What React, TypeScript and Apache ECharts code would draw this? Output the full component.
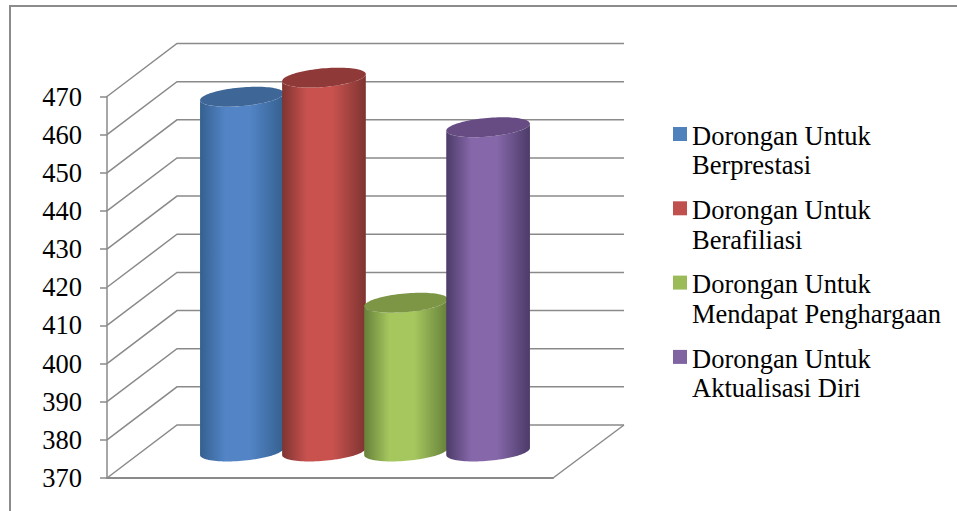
import React, { useEffect, useRef } from "react";
import * as echarts from "echarts";

const tickValues = [370, 380, 390, 400, 410, 420, 430, 440, 450, 460, 470];
const seriesNames = [
  "Dorongan Untuk\nBerprestasi",
  "Dorongan Untuk\nBerafiliasi",
  "Dorongan Untuk\nMendapat Penghargaan",
  "Dorongan Untuk\nAktualisasi Diri",
];
const seriesValues = [463, 468, 409, 455];
const categories = ["Motivasi"];
const baseColors = ["#4f81bd", "#c0504d", "#9bbb59", "#8064a2"];
const midColors = ["#5284c6", "#c9524f", "#a5c75e", "#8668aa"];
const edgeColors = ["#35608f", "#7e3431", "#66803a", "#4c3b68"];
const capColors = ["#3e6697", "#8f3a38", "#7d9645", "#664c83"];

const GRAY = "#8a8a8a";
const DEPTH_X = 70;
const DEPTH_Y = 53;
const RX = 42;
const RY = 9.3;
const TILT = (5 * Math.PI) / 180;
const PHI0 = Math.atan((RY * Math.tan(TILT)) / RX);

function ellipsePoint(cx: number, cy: number, phi: number) {
  const c = Math.cos(phi);
  const s = Math.sin(phi);
  return [
    cx + RX * c * Math.cos(TILT) + RY * s * Math.sin(TILT),
    cy - RX * c * Math.sin(TILT) + RY * s * Math.cos(TILT),
  ];
}

function arcPoints(cx: number, cy: number, from: number, to: number, steps: number) {
  const pts: number[][] = [];
  for (let k = 0; k <= steps; k++) {
    pts.push(ellipsePoint(cx, cy, from + ((to - from) * k) / steps));
  }
  return pts;
}

export default function App() {
  const ref = useRef<HTMLDivElement>(null);
  useEffect(() => {
    const chart = echarts.init(ref.current!, null, { renderer: "svg" });

    const cylinderSeries = seriesNames.map((name, i) => ({
      type: "custom",
      name,
      z: 3 + i,
      itemStyle: { color: baseColors[i] },
      data: [[0, seriesValues[i]]],
      renderItem: (params: any, api: any) => {
        const band = api.size([1, 0])[0];
        const top = api.coord([0, api.value(1)]);
        const base = api.coord([0, tickValues[0]]);
        const cx = top[0] + DEPTH_X / 2 + (i - 1.5) * band * 0.184;
        const cy = top[1] - DEPTH_Y / 2;
        const by = base[1] - DEPTH_Y / 2;
        const body = [
          ...arcPoints(cx, by, PHI0 + Math.PI, PHI0, 48),
          ...arcPoints(cx, cy, PHI0, PHI0 + Math.PI, 48),
        ];
        const cap = arcPoints(cx, cy, 0, 2 * Math.PI, 96);
        return {
          type: "group",
          children: [
            {
              type: "polygon",
              shape: { points: body },
              style: {
                fill: new echarts.graphic.LinearGradient(0, 0, 1, 0, [
                  { offset: 0, color: edgeColors[i] },
                  { offset: 0.3, color: midColors[i] },
                  { offset: 0.6, color: midColors[i] },
                  { offset: 1, color: edgeColors[i] },
                ]),
              },
            },
            {
              type: "polygon",
              shape: { points: cap },
              style: { fill: capColors[i] },
            },
          ],
        };
      },
    }));

    chart.setOption({
      animation: false,
      backgroundColor: "#ffffff",
      textStyle: { fontFamily: "Liberation Serif" },
      grid: { left: 107, right: 404, top: 96.5, bottom: 33 },
      xAxis: {
        type: "category",
        data: categories,
        axisLabel: { show: false },
        axisTick: { show: false },
        axisLine: { show: true, lineStyle: { color: GRAY, width: 2 } },
      },
      yAxis: {
        type: "value",
        min: 370,
        max: 470,
        interval: 10,
        splitLine: { show: false },
        axisLine: { show: true, lineStyle: { color: GRAY, width: 1.5 } },
        axisTick: { show: true, inside: false, length: 7, lineStyle: { color: GRAY, width: 1.5 } },
        axisLabel: {
          margin: 25,
          color: "#000000",
          fontSize: 26.5,
          fontFamily: "Liberation Serif",
          padding: [4, 0, 0, 0],
        },
      },
      legend: {
        orient: "vertical",
        left: 673,
        top: 120.5,
        padding: 0,
        itemWidth: 14,
        itemHeight: 60,
        itemGap: 14.3,
        icon: "path://M0 6.5L14 6.5L14 20.5L0 20.5ZM0 0L0 0M0 60L0 60",
        data: seriesNames,
        selectedMode: false,
        textStyle: {
          fontFamily: "Liberation Serif",
          fontSize: 26.5,
          lineHeight: 29.5,
          color: "#000000",
        },
      },
      graphic: [
        {
          type: "polyline",
          silent: true,
          shape: { points: [[10, 511], [10, 6], [957, 6]] },
          style: { fill: "none", stroke: "#8c8c8c", lineWidth: 2 },
        },
      ],
      series: [
        {
          type: "custom",
          name: "walls",
          z: 1,
          silent: true,
          data: tickValues.map((v) => [0, v]),
          renderItem: (params: any, api: any) => {
            const p = api.coord([0, api.value(1)]);
            const left = params.coordSys.x;
            const width = params.coordSys.width;
            const y = p[1];
            const points = [
              [left, y],
              [left + DEPTH_X, y - DEPTH_Y],
              [left + DEPTH_X + width + 1, y - DEPTH_Y],
            ];
            if (api.value(1) === tickValues[0]) {
              return {
                type: "group",
                children: [
                  { type: "polyline", shape: { points }, style: { fill: "none", stroke: GRAY, lineWidth: 1.5 } },
                  {
                    type: "polyline",
                    shape: { points: [[left + width, y], [left + width + DEPTH_X + 1, y - DEPTH_Y]] },
                    style: { fill: "none", stroke: GRAY, lineWidth: 1.5 },
                  },
                ],
              };
            }
            return { type: "polyline", shape: { points }, style: { fill: "none", stroke: GRAY, lineWidth: 1.5 } };
          },
        },
        ...cylinderSeries,
      ],
    });
    return () => chart.dispose();
  }, []);
  return <div ref={ref} style={{ position: "fixed", left: 0, top: 0, width: 957, height: 511 }} />;
}
